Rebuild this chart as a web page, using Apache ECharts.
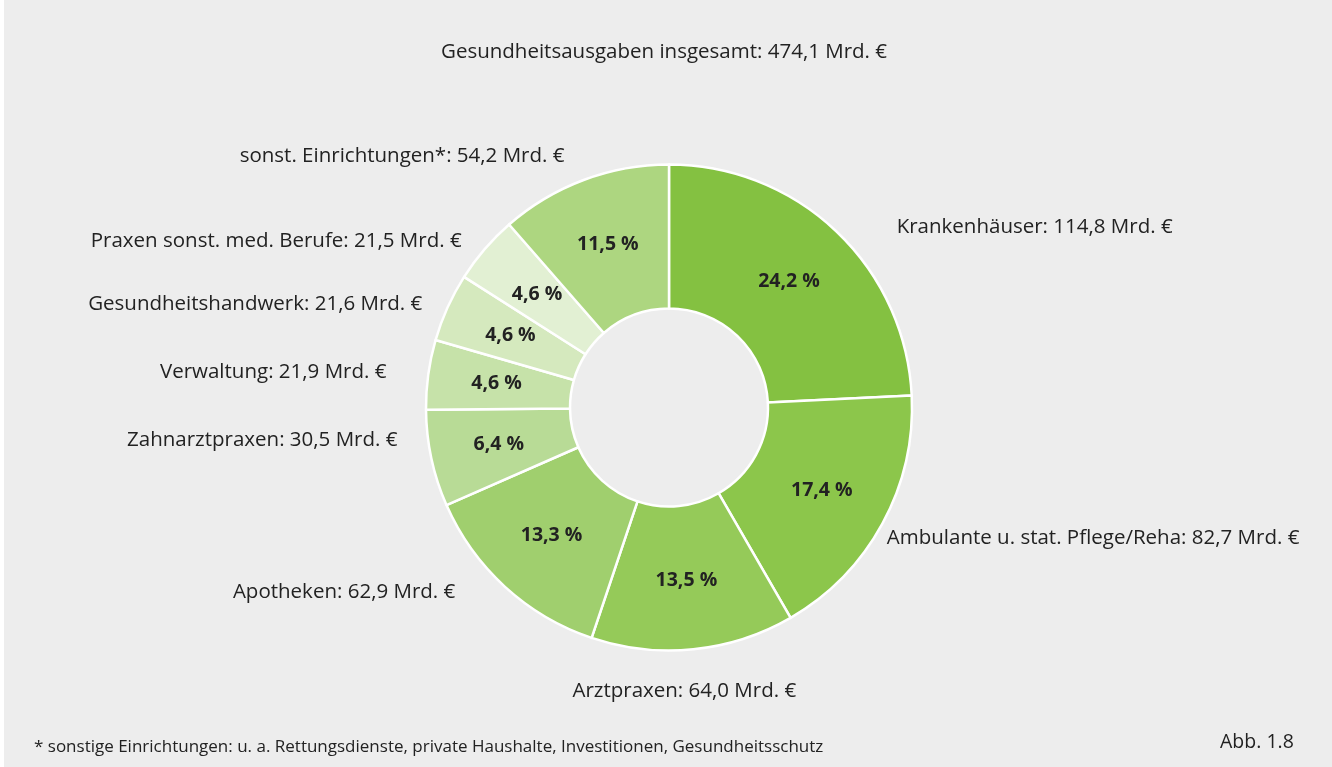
<!DOCTYPE html>
<html>
<head>
<meta charset="utf-8">
<script src="https://cdn.jsdelivr.net/npm/echarts@6/dist/echarts.min.js"></script>
<style>
  html, body { margin: 0; padding: 0; background: #ffffff; }
  #chart { position: absolute; left: 4px; top: 0; width: 1328px; height: 767px; }
</style>
</head>
<body>
<div id="chart"></div>
<script>
// Gesundheitsausgaben nach Einrichtungen (Mrd. €), Reihenfolge im Uhrzeigersinn ab 12 Uhr
var categories = [
  "Krankenhäuser",
  "Ambulante u. stat. Pflege/Reha",
  "Arztpraxen",
  "Apotheken",
  "Zahnarztpraxen",
  "Verwaltung",
  "Gesundheitshandwerk",
  "Praxen sonst. med. Berufe",
  "sonst. Einrichtungen*"
];
var values = [114.8, 82.7, 64.0, 62.9, 30.5, 21.9, 21.6, 21.5, 54.2];
// Anteile in %, wie in der Abbildung angegeben
var shares = [24.2, 17.4, 13.5, 13.3, 6.4, 4.6, 4.6, 4.6, 11.5];
var colors = ["#84c141", "#8cc64b", "#95ca59", "#a0cf6e", "#b8db96",
              "#c6e2a9", "#d5e9be", "#e2f0d3", "#add680"];

// Lage der Außenbeschriftung je Segment (radial / horizontal)
var labelLen = [7, 31, 43, 8, -87, 20, 9, 13, 27];
var labelLen2 = [56, -22, -125, 45, 120, 23, 18, 14, 10];

var fmt = function (v) { return v.toFixed(1).replace(".", ","); };
var font = "'Open Sans', 'Noto Sans', sans-serif";
var textColor = "#222222";

var chart = echarts.init(document.getElementById("chart"));

var outerData = [];
var innerData = [];
for (var i = 0; i < categories.length; i++) {
  outerData.push({
    name: categories[i],
    value: values[i],
    labelLine: { show: false, length: labelLen[i], length2: labelLen2[i] }
  });
  innerData.push({
    name: categories[i],
    value: values[i],
    share: shares[i],
    itemStyle: { color: colors[i] }
  });
}

var option = {
  backgroundColor: "#ededed",
  animation: false,
  title: [
    {
      text: "Gesundheitsausgaben insgesamt: " + fmt(474.1) + " Mrd. €",
      left: 655,
      top: 47,
      textAlign: "center",
      textVerticalAlign: "middle",
      textStyle: { fontFamily: font, fontSize: 20.5, fontWeight: "normal", color: textColor }
    },
    {
      text: "* sonstige Einrichtungen: u. a. Rettungsdienste, private Haushalte, Investitionen, Gesundheitsschutz",
      left: 25,
      top: 734,
      textStyle: { fontFamily: font, fontSize: 17, fontWeight: "normal", color: textColor }
    },
    {
      text: "Abb. 1.8",
      left: 1211,
      top: 727,
      textStyle: { fontFamily: font, fontSize: 19.5, fontWeight: "normal", color: textColor }
    }
  ],
  series: [
    {
      type: "pie",
      center: [665, 407.5],
      radius: [99, 243],
      startAngle: 90,
      clockwise: true,
      avoidLabelOverlap: false,
      silent: true,
      itemStyle: { borderColor: "#ffffff", borderWidth: 2.5 },
      label: {
        show: true,
        position: "inside",
        fontFamily: font,
        fontSize: 19.5,
        fontWeight: "bold",
        color: textColor,
        formatter: function (p) { return fmt(p.data.share) + " %"; }
      },
      labelLine: { show: false },
      data: innerData
    },
    {
      type: "pie",
      center: [665, 407.5],
      radius: [99, 242],
      startAngle: 90,
      clockwise: true,
      avoidLabelOverlap: false,
      silent: true,
      z: 1,
      itemStyle: { color: "rgba(0,0,0,0)", borderWidth: 0 },
      label: {
        show: true,
        position: "outside",
        distanceToLabelLine: 0,
        fontFamily: font,
        fontSize: 20.5,
        color: textColor,
        formatter: function (p) { return p.name + ": " + fmt(p.value) + " Mrd. €"; }
      },
      data: outerData
    }
  ]
};

chart.setOption(option);
window.onresize = function () { chart.resize(); };
</script>
</body>
</html>
